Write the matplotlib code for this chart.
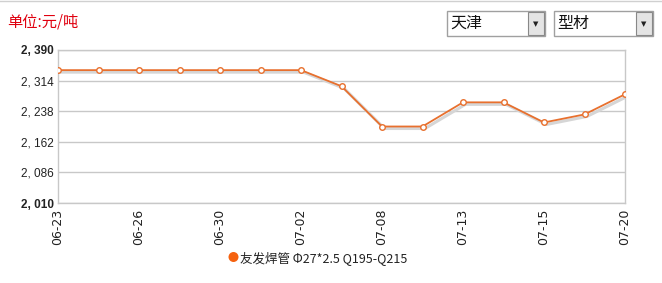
import matplotlib.pyplot as plt
import matplotlib.patches as mpatches
import matplotlib.ticker as mtick

plt.rcParams['font.family'] = ['Noto Sans CJK SC', 'DejaVu Sans']

# data
dates = ['06-23', '06-24', '06-26', '06-29', '06-30', '07-01', '07-02', '07-06',
         '07-08', '07-10', '07-13', '07-14', '07-15', '07-17', '07-20']
prices = [2340, 2340, 2340, 2340, 2340, 2340, 2340, 2300,
          2200, 2200, 2260, 2260, 2210, 2230, 2280]
yticks = [2010, 2086, 2162, 2238, 2314, 2390]
series_name = '友发焊管 Φ27*2.5 Q195-Q215'
unit_text = '单位:元/吨'
city = '天津'
category = '型材'

W, H = 662, 283
fig = plt.figure(figsize=(W / 100, H / 100), dpi=100)
fig.patch.set_facecolor('white')

def px(x0, y0, x1, y1):
    return [x0 / W, 1 - y1 / H, (x1 - x0) / W, (y1 - y0) / H]

ax = fig.add_axes(px(58, 50, 625, 203))
x = list(range(len(dates)))
line_color = '#E8702E'

# shadow
ax.plot([v + 0.06 for v in x], [p - 5 for p in prices], color='#d6d6d6', lw=2.2,
        zorder=2, solid_joinstyle='round')
ax.plot(x, prices, color=line_color, lw=1.3, zorder=3, marker='o', ms=4,
        mfc='white', mec=line_color, mew=1.0)

ax.set_xlim(0, len(dates) - 1)
ax.set_ylim(2010, 2390)
ax.set_yticks(yticks)
ax.yaxis.set_major_formatter(mtick.FuncFormatter(lambda v, p: f'{int(v):,}'.replace(',', ', ')))
ax.grid(axis='y', color='#c8c8c8', lw=1)
ax.set_axisbelow(True)
for s in ax.spines.values():
    s.set_color('#c8c8c8')
    s.set_linewidth(1)
ax.tick_params(axis='both', length=0, colors='#222222')
ax.tick_params(axis='y', labelsize=8.5, pad=3)

ax.set_xticks(x[::2])
ax.set_xticklabels(dates[::2], rotation=90, fontsize=9, family='DejaVu Sans')
ax.tick_params(axis='x', pad=4)
for lbl in ax.get_yticklabels():
    lbl.set_family('Liberation Sans')
labels = ax.get_yticklabels()
labels[0].set_fontweight('bold')
labels[-1].set_fontweight('bold')

# header
fig.text(7 / W, 1 - 22 / H, unit_text, color='#e0000f', fontsize=11, va='center', ha='left')

for (x0, x1, txt) in [(447, 545, city), (554, 653, category)]:
    box = mpatches.Rectangle((x0 / W, 1 - 36 / H), (x1 - x0) / W, 25 / H,
                             transform=fig.transFigure, fc='white', ec='#a0a0a0', lw=1)
    fig.add_artist(box)
    btn = mpatches.Rectangle(((x1 - 17) / W, 1 - 35 / H), 16 / W, 23 / H,
                             transform=fig.transFigure, fc='#e4e4e4', ec='#888888', lw=0.8)
    fig.add_artist(btn)
    fig.text((x1 - 9) / W, 1 - 24 / H, '▼', fontsize=5, ha='center', va='center',
             family='DejaVu Sans', color='#222222')
    fig.text((x0 + 3) / W, 1 - 23.5 / H, txt, fontsize=11.5, ha='left', va='center', color='#111111')

fig.add_artist(plt.Line2D([0, 1], [1 - 0.5 / H, 1 - 0.5 / H], transform=fig.transFigure,
                          color='#d0d0d0', lw=1))

# legend
fig.add_artist(mpatches.Ellipse((233.5 / W, 1 - 257 / H), 10 / W, 10 / H,
                                transform=fig.transFigure, fc='#F5620F', ec='none'))
fig.text(240 / W, 1 - 258 / H, series_name, fontsize=9, ha='left', va='center', color='#222222')

fig.savefig('out.png', dpi=100)
